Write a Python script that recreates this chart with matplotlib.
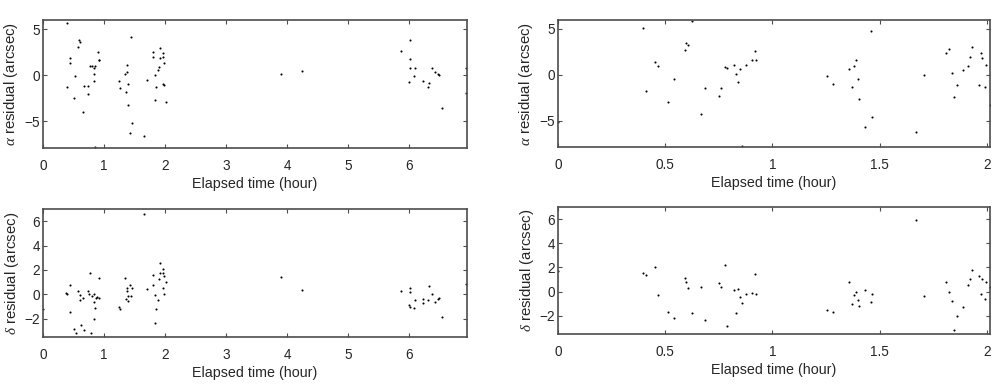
import matplotlib
matplotlib.use("Agg")
import matplotlib.pyplot as plt

plt.rcParams["font.family"] = ["Liberation Sans", "DejaVu Sans"]
plt.rcParams["mathtext.fontset"] = "custom"
plt.rcParams["mathtext.it"] = "Liberation Serif:italic"

# --- left data set (0 - 7 h) ---
t_left = [0.40, 0.40, 0.44, 0.45, 0.50, 0.53, 0.58, 0.59, 0.60, 0.66,
          0.68, 0.74, 0.74, 0.77, 0.80, 0.83, 0.83, 0.84, 0.85, 0.86,
          0.90, 0.91, 0.92, 1.25, 1.27, 1.35, 1.36, 1.37, 1.38, 1.39,
          1.40, 1.43, 1.45, 1.46, 1.65, 1.70, 1.80, 1.81, 1.83, 1.84,
          1.85, 1.88, 1.90, 1.92, 1.92, 1.96, 1.96, 1.97, 1.98, 1.99,
          2.01, 3.90, 4.25, 5.87, 6.01, 6.01, 6.02, 6.09, 6.08, 6.00,
          6.23, 6.32, 6.31, 6.38, 6.42, 6.47, 6.49, 6.54, 6.93, 6.93]
ra_left = [5.65, -1.30, 1.83, 1.37, -2.48, -0.04, 3.10, 3.80, 3.60, -3.96,
           -1.15, -2.00, -1.22, 0.97, 1.04, 0.10, -0.65, 0.75, -7.80, 1.00,
           2.55, 1.65, 1.65, -0.60, -1.40, 0.10, -1.83, 0.36, 1.08, -1.00,
           -3.24, -6.30, 4.17, -5.18, -6.62, -0.47, 2.00, 2.55, 0.00, -2.66,
           -1.30, 0.54, 0.86, 2.98, 1.83, -0.94, 2.45, 2.00, -1.08, 1.30,
           -2.95, 0.18, 0.47, 2.63, 3.81, 1.76, 0.79, 0.79, -0.07, -0.72,
           -0.61, -0.86, -1.33, 0.79, 0.40, 0.14, 0.04, -3.60, 0.83, -1.90]

t_left_d = [0.00, 0.38, 0.40, 0.44, 0.45, 0.50, 0.54, 0.58, 0.60, 0.61,
            0.62, 0.66, 0.68, 0.74, 0.75, 0.77, 0.78, 0.81, 0.83, 0.84,
            0.84, 0.85, 0.87, 0.89, 0.91, 0.92, 1.24, 1.27, 1.34, 1.36,
            1.37, 1.38, 1.39, 1.40, 1.43, 1.45, 1.46, 1.65, 1.70, 1.80,
            1.81, 1.83, 1.84, 1.85, 1.88, 1.90, 1.92, 1.92, 1.96, 1.96,
            1.97, 1.98, 1.99, 2.01, 3.90, 4.25, 5.87, 6.01, 6.01, 6.00,
            6.02, 6.08, 6.09, 6.23, 6.23, 6.31, 6.32, 6.38, 6.42, 6.47,
            6.49, 6.54, 6.93]
dec_left = [-1.15, 0.14, 0.00, 0.74, -1.45, -2.78, -3.14, 0.30, -0.08, -0.41,
            -2.48, -0.27, -2.89, 0.25, 0.05, 1.75, -3.14, -0.14, -2.02, 0.00,
            -0.63, -1.12, -0.30, -0.22, 1.31, -0.25, -1.04, -1.17, 1.31, -0.38,
            0.30, 0.49, -0.11, -0.57, 0.74, -0.16, 0.49, 6.60, 0.46, 1.58,
            0.76, -0.03, -2.35, -1.15, -0.44, 1.28, 2.54, 1.75, 2.05, 0.57,
            1.77, 0.08, 1.50, 1.06, 1.42, 0.35, 0.25, 0.52, 0.19, -0.82,
            -1.00, -1.09, -0.41, -0.35, -0.71, -0.41, 0.68, 0.00, -0.60, -0.33,
            -0.25, -1.86, 0.85]

# --- right data set (0 - 2 h) ---
t_right = [0.000, 0.396, 0.412, 0.454, 0.465, 0.515, 0.540, 0.591, 0.597, 0.608,
           0.623, 0.667, 0.684, 0.751, 0.759, 0.781, 0.789, 0.822, 0.832, 0.841,
           0.849, 0.858, 0.875, 0.906, 0.919, 0.925, 1.255, 1.281, 1.356, 1.372,
           1.382, 1.390, 1.398, 1.405, 1.432, 1.458, 1.466, 1.668, 1.709, 1.811,
           1.826, 1.836, 1.845, 1.862, 1.889, 1.912, 1.922, 1.931, 1.964, 1.971,
           1.980, 1.990, 1.996, 2.015]
ra_right = [-5.16, 5.13, -1.78, 1.38, 0.91, -2.95, -0.40, 2.69, 3.49, 3.27,
            5.89, -4.25, -1.42, -2.25, -1.42, 0.84, 0.80, 1.02, 0.07, -0.73,
            0.69, -7.78, 1.02, 1.67, 2.58, 1.67, -0.15, -0.95, 0.65, -1.27,
            0.95, 1.64, -0.44, -2.65, -5.71, 4.76, -4.58, -6.18, -0.04, 2.33,
            2.80, 0.25, -2.44, -1.13, 0.58, 0.91, 1.89, 2.98, -1.13, 2.36,
            1.85, -1.35, 1.09, -3.24]
dec_right = [1.72, 1.58, 1.36, 2.00, -0.25, -1.72, -2.14, 1.11, 0.78, 0.33,
             -1.75, 0.36, -2.31, 0.69, 0.39, 2.17, -2.80, 0.14, -1.78, 0.25,
             -0.44, -0.94, -0.19, -0.08, 1.42, -0.22, -1.50, -1.67, 0.78, -1.00,
             -0.25, -0.06, -0.67, -1.22, 0.17, -0.86, -0.17, 5.89, -0.33, 0.83,
             -0.03, -0.78, -3.17, -2.00, -1.28, 0.56, 1.03, 1.78, 1.33, -0.17,
             1.03, -0.64, 0.81, 0.36]

XLABEL = "Elapsed time (hour)"
RA_LABEL = r"$\alpha$ residual (arcsec)"
DEC_LABEL = r"$\delta$ residual (arcsec)"

EDGE = "#4d4d4d"
TEXT = "#262626"


def style(ax, xlim, ylim, xticks, yticks, xticklabels, ylabel):
    ax.set_xlim(*xlim)
    ax.set_ylim(*ylim)
    ax.set_xticks(xticks)
    ax.set_xticklabels(xticklabels)
    ax.set_yticks(yticks)
    ax.tick_params(direction="in", top=True, right=True, length=3,
                   width=0.8, color=EDGE, labelsize=9.8, labelcolor=TEXT)
    ax.tick_params(axis="x", pad=8)
    ax.tick_params(axis="y", pad=2)
    for s in ax.spines.values():
        s.set_color(EDGE)
        s.set_linewidth(1.2)
    ax.set_xlabel(XLABEL, fontsize=10.3, color=TEXT, labelpad=3)
    ax.set_ylabel(ylabel, fontsize=10.8, color=TEXT, labelpad=3)


fig = plt.figure(figsize=(10.04, 3.86), dpi=100)

ax1 = fig.add_axes([43 / 1004, 1 - 148 / 386, 424 / 1004, 128 / 386])
ax2 = fig.add_axes([43 / 1004, 1 - 337 / 386, 424 / 1004, 128 / 386])
ax3 = fig.add_axes([558 / 1004, 1 - 147 / 386, 432 / 1004, 127 / 386])
ax4 = fig.add_axes([558 / 1004, 1 - 334 / 386, 432 / 1004, 127 / 386])

mk = dict(ls="none", marker=".", ms=3, color="k", mew=0)

ax1.plot(t_left, ra_left, **mk)
style(ax1, (0, 6.95), (-7.9, 6.0), range(7), [-5, 0, 5],
      ["0", "1", "2", "3", "4", "5", "6"], RA_LABEL)

ax2.plot(t_left_d, dec_left, **mk)
style(ax2, (0, 6.95), (-3.47, 6.98), range(7), [-2, 0, 2, 4, 6],
      ["0", "1", "2", "3", "4", "5", "6"], DEC_LABEL)

ax3.plot(t_right, ra_right, **mk)
style(ax3, (0, 2.015), (-7.85, 5.97), [0, 0.5, 1, 1.5, 2], [-5, 0, 5],
      ["0", "0.5", "1", "1.5", "2"], RA_LABEL)

ax4.plot(t_right, dec_right, **mk)
style(ax4, (0, 2.015), (-3.5, 7.0), [0, 0.5, 1, 1.5, 2], [-2, 0, 2, 4, 6],
      ["0", "0.5", "1", "1.5", "2"], DEC_LABEL)

fig.savefig("out.png", dpi=100)
